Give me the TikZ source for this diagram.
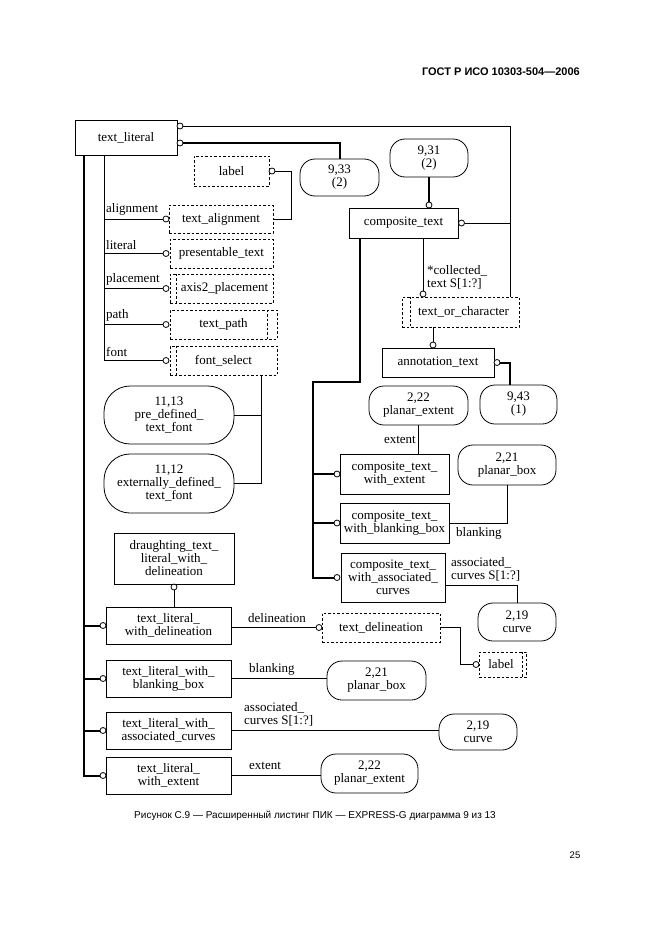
\documentclass[tikz,border=0pt]{standalone}
\usepackage{fontspec}
\setmainfont{Liberation Serif}
\newfontfamily\hfont{Liberation Sans}
\usetikzlibrary{calc}
\newcommand{\dfnt}{\fontsize{13}{13}\selectfont}
\tikzset{
  ent/.style={draw, line width=0.8pt, align=center, inner sep=0pt, font=\dfnt},
  dsh/.style={draw, dash pattern=on 2.5pt off 2pt, line width=0.7pt, align=center, inner sep=0pt, font=\dfnt},
  ov/.style={draw, rounded corners=15pt, line width=0.8pt, align=center, inner sep=0pt, font=\dfnt},
  bigov/.style={ov, rounded corners=26pt},
  oc/.style={circle, draw, fill=white, minimum size=6pt, inner sep=0pt, line width=0.8pt},
  rel/.style={line width=0.8pt},
  thk/.style={line width=2pt},
  lab/.style={font=\dfnt, inner sep=1pt, align=left},
  innerd/.style={dash pattern=on 2.5pt off 2pt, line width=0.7pt}
}
\begin{document}
\begin{tikzpicture}[x=1pt,y=-1pt]
\useasboundingbox (0,0) rectangle (661,936);
% header, caption, page
\node[font=\hfont\bfseries\fontsize{11}{13}\selectfont, anchor=east, inner sep=0] (hdr) at (580,72) {ГОСТ Р ИСО 10303-504—2006};
\node[font=\hfont\fontsize{10}{11}\selectfont, inner sep=0] (cap) at (315,816) {Рисунок С.9 — Расширенный листинг ПИК — EXPRESS-G диаграмма 9 из 13};
\node[font=\hfont\fontsize{9.5}{10}\selectfont, inner sep=0] (pg) at (575,855) {25};

% ---------- entities ----------
\node[ent, minimum width=102pt, minimum height=35pt] (tl) at (126,137.5) {text\_literal};
\node[dsh, minimum width=75pt, minimum height=30pt] (lab1) at (231.5,171) {label};
\node[ov, minimum width=79pt, minimum height=37pt] (r933) at (339.5,177.5) {9,33\\(2)};
\node[ov, minimum width=78pt, minimum height=38pt] (r931) at (429,158) {9,31\\(2)};
\node[ent, minimum width=109pt, minimum height=30pt] (ct) at (403.5,223) {composite\_text};

\node[dsh, minimum width=104pt, minimum height=28pt] (talign) at (221,219) {text\_alignment};
\node[dsh, minimum width=103pt, minimum height=29pt] (ptext) at (221.5,253.5) {presentable\_text};
\node[dsh, minimum width=103pt, minimum height=29pt] (a2p) at (221.5,288.5) {\hspace*{6pt}axis2\_placement};
\node[dsh, minimum width=107pt, minimum height=29pt] (tpath) at (223.5,324.5) {text\_path};
\node[dsh, minimum width=107pt, minimum height=29pt] (fsel) at (223.5,360.5) {font\_select};
\draw[innerd] ([xshift=7pt]a2p.north west) -- ([xshift=7pt]a2p.south west);
\draw[innerd] ([xshift=-10pt]tpath.north east) -- ([xshift=-10pt]tpath.south east);
\draw[innerd] ([xshift=7pt]fsel.north west) -- ([xshift=7pt]fsel.south west);

\node[bigov, minimum width=130pt, minimum height=58pt] (pdf) at (169,415) {11,13\\pre\_defined\_\\text\_font};
\node[bigov, minimum width=130pt, minimum height=59pt] (edf) at (169,483.5) {11,12\\externally\_defined\_\\text\_font};

\node[ent, minimum width=120pt, minimum height=51pt] (dtl) at (174,558.5) {draughting\_text\_\\literal\_with\_\\delineation};
\node[ent, minimum width=125pt, minimum height=37pt] (tlwd) at (168.5,625.5) {text\_literal\_\\with\_delineation};
\node[ent, minimum width=125pt, minimum height=37pt] (tlwb) at (168.5,678.5) {text\_literal\_with\_\\blanking\_box};
\node[ent, minimum width=125pt, minimum height=37pt] (tlwc) at (168.5,730.5) {text\_literal\_with\_\\associated\_curves};
\node[ent, minimum width=125pt, minimum height=37pt] (tlwe) at (168.5,775.5) {text\_literal\_\\with\_extent};

\node[dsh, minimum width=118pt, minimum height=29pt] (tdel) at (381,627.5) {text\_delineation};
\node[dsh, minimum width=47pt, minimum height=25pt] (lab2) at (502.5,664.5) {label\hspace*{3pt}};
\draw[innerd] ([xshift=-4pt]lab2.north east) -- ([xshift=-4pt]lab2.south east);
\node[ov, minimum width=99pt, minimum height=39pt] (pb2) at (376.5,680.5) {2,21\\planar\_box};
\node[ov, minimum width=78pt, minimum height=36pt] (cv2) at (478,732) {2,19\\curve};
\node[ov, minimum width=97pt, minimum height=39pt] (pe2) at (369.5,773.5) {2,22\\planar\_extent};

\node[dsh, minimum width=117pt, minimum height=30pt] (toc) at (460.5,312) {\hspace*{6pt}text\_or\_character};
\draw[innerd] ([xshift=9pt]toc.north west) -- ([xshift=9pt]toc.south west);
\node[ent, minimum width=112pt, minimum height=29pt] (ann) at (438,362.5) {annotation\_text};
\node[ov, minimum width=99pt, minimum height=39pt] (pe1) at (418.5,405.5) {2,22\\planar\_extent};
\node[ov, minimum width=77pt, minimum height=39pt] (r943) at (518.5,404.5) {9,43\\(1)};
\node[ov, minimum width=98pt, minimum height=40pt] (pb1) at (507,465) {2,21\\planar\_box};
\node[ov, minimum width=78pt, minimum height=38pt] (cv1) at (517,622) {2,19\\curve};

\node[ent, minimum width=109pt, minimum height=40pt] (ctwe) at (394.5,474) {composite\_text\_\\with\_extent};
\node[ent, minimum width=109pt, minimum height=40pt] (ctwb) at (394.5,523) {composite\_text\_\\with\_blanking\_box};
\node[ent, minimum width=104pt, minimum height=49pt] (ctwc) at (393,577.5) {composite\_text\_\\with\_associated\_\\curves};

% ---------- circles ----------
\node[oc] (ctl1) at (180,126) {};
\node[oc] (ctl2) at (180,143) {};
\node[oc] (clab1) at (272,171) {};
\node[oc] (cct) at (429,205) {};
\node[oc] (cctr) at (461.5,223) {};
\node[oc] (ca1) at (166,219) {};
\node[oc] (ca2) at (166,253.5) {};
\node[oc] (ca3) at (166,288.5) {};
\node[oc] (ca4) at (166,324.5) {};
\node[oc] (ca5) at (166,360.5) {};
\node[oc] (cdtl) at (174,587) {};
\node[oc] (cw1) at (103,625.5) {};
\node[oc] (cw2) at (103,678.5) {};
\node[oc] (cw3) at (103,730.5) {};
\node[oc] (cw4) at (103,775.5) {};
\node[oc] (ctdel) at (319,627.5) {};
\node[oc] (clab2) at (476,664.5) {};
\node[oc] (ctoc) at (423,294) {};
\node[oc] (cann) at (433,345) {};
\node[oc] (cannr) at (497,362.5) {};
\node[oc] (cc1) at (337,474) {};
\node[oc] (cc2) at (337,523) {};
\node[oc] (cc3) at (337,577.5) {};

% ---------- corner coordinates ----------
\coordinate (tlv) at (104,155);
\coordinate (tlk) at (84,155);
\coordinate (rv) at (510,126);
\coordinate (ctk) at (360,238);
\coordinate (ctbend) at (313,382);

% ---------- connectors ----------
% top
\draw[rel] (ctl1.east) -- (rv) -- (rv |- toc.north);
\draw[rel] (cctr.east) -- (cctr.east -| rv);
\draw[thk] (ctl2.east) -| (r933.north);
\draw[thk] (r931.south) -- (cct.north);
\draw[rel] (clab1.east) -- ++(16,0) |- (talign.east);
% attributes of text_literal
\draw[rel] (tlv) |- (ca5.west);
\draw[rel] (tlv |- ca1) -- (ca1.west);
\draw[rel] (tlv |- ca2) -- (ca2.west);
\draw[rel] (tlv |- ca3) -- (ca3.west);
\draw[rel] (tlv |- ca4) -- (ca4.west);
\node[lab, anchor=south west] (la1) at (105,217) {alignment};
\node[lab, anchor=south west] (la2) at (105,251) {literal};
\node[lab, anchor=south west] (la3) at (105,286) {placement};
\node[lab, anchor=south west] (la4) at (105,322) {path};
\node[lab, anchor=south west] (la5) at (105,358) {font};
% font select
\draw[rel] ([xshift=-16pt]fsel.south east) |- (edf.east);
\draw[rel] (pdf.east) -- (pdf.east -| 261,0);
% subtypes of text_literal
\draw[thk] (tlk) |- (cw4.west);
\draw[thk] (tlk |- cw1) -- (cw1.west);
\draw[thk] (tlk |- cw2) -- (cw2.west);
\draw[thk] (tlk |- cw3) -- (cw3.west);
\draw[rel] (dtl.south) -- (cdtl.north);
\draw[rel] (cdtl.south) -- (tlwd.north -| cdtl);
% bottom attributes
\draw[rel] (tlwd.east |- ctdel) -- (ctdel.west);
\node[lab, anchor=south west] (ld1) at (247,624) {delineation};
\draw[rel] (tdel.east) -- ++(20,0) |- (clab2.west);
\draw[rel] (tlwb.east) -- (tlwb.east -| pb2.west);
\node[lab, anchor=south west] (ld2) at (248,676) {blanking};
\draw[rel] (tlwc.east) -- (tlwc.east -| cv2.west);
\node[lab, anchor=south west] (ld3) at (243,727) {associated\_\\curves S[1:?]};
\draw[rel] (tlwe.east) -- (tlwe.east -| pe2.west);
\node[lab, anchor=south west] (ld4) at (248,771) {extent};
% composite text
\draw[thk] (ctk) |- (ctbend) |- (cc3.west);
\draw[thk] (ctbend |- cc1) -- (cc1.west);
\draw[thk] (ctbend |- cc2) -- (cc2.west);
\draw[rel] (ct.south -| ctoc) -- (ctoc.north);
\node[lab, anchor=south west] (lcol) at (426,290) {*collected\_\\text S[1:?]};
\draw[rel] (toc.south -| cann) -- (cann.north);
\draw[thk] (cannr.east) -| (r943.north -| rv);
\draw[rel] (pe1.south) -- (ctwe.north -| pe1.south);
\node[lab, anchor=south east] (le1) at (417,445) {extent};
\draw[rel] (ctwb.east) -| (pb1.south);
\node[lab, anchor=north west] (lb1) at (455,526) {blanking};
\draw[rel] (ctwc.east |- 0,585) -| (cv1.north);
\node[lab, anchor=south west] (lc1) at (450,582) {associated\_\\curves S[1:?]};
\end{tikzpicture}
\end{document}
